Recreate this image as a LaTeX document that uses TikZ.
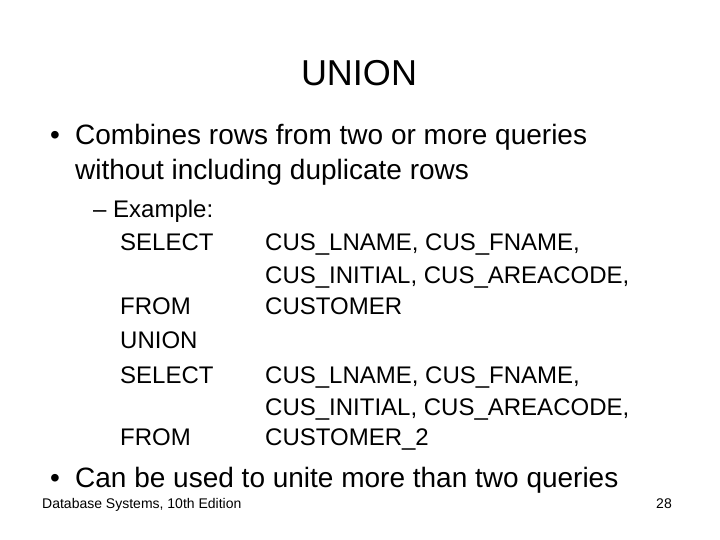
\documentclass[tikz,border=0pt]{standalone}
\usepackage{fontspec}
\setmainfont{Liberation Sans}
\begin{document}
\begin{tikzpicture}[x=1pt,y=-1pt,
  txt/.style={anchor=base west,inner sep=0pt},
  big/.style={txt,font=\fontsize{28}{28}\selectfont},
  sql/.style={txt,font=\fontsize{24}{24}\selectfont}]
  \useasboundingbox (0,0) rectangle (720,540);
  \node[anchor=base,inner sep=0pt,font=\fontsize{36}{36}\selectfont] (title) at (359,86) {UNION};
  % first bullet
  \node[big] (b1) at (50,145) {\textbullet};
  \node[big] (l1) at (75,145) {Combines rows from two or more queries};
  \node[big] (l2) at (75,180) {without including duplicate rows};
  \node[txt,font=\fontsize{24}{24}\selectfont] (ex) at (93,218) {– Example:};
  % query
  \node[sql] (k1) at (120,251) {SELECT};
  \node[sql] (v1) at (265,251) {CUS\_LNAME, CUS\_FNAME,};
  \node[sql] (v2) at (265,283) {CUS\_INITIAL, CUS\_AREACODE,};
  \node[sql] (k2) at (120,314) {FROM};
  \node[sql] (v3) at (265,314) {CUSTOMER};
  \node[sql] (k3) at (120,348) {UNION};
  \node[sql] (k4) at (120,383) {SELECT};
  \node[sql] (v4) at (265,383) {CUS\_LNAME, CUS\_FNAME,};
  \node[sql] (v5) at (265,415) {CUS\_INITIAL, CUS\_AREACODE,};
  \node[sql] (k5) at (120,445) {FROM};
  \node[sql] (v6) at (265,445) {CUSTOMER\_2};
  % second bullet
  \node[big] (b2) at (50,487) {\textbullet};
  \node[big] (l3) at (75,487) {Can be used to unite more than two queries};
  % footer
  \node[txt,font=\fontsize{14}{14}\selectfont] (foot) at (42,508) {Database Systems, 10th Edition};
  \node[anchor=base east,inner sep=0pt,font=\fontsize{14}{14}\selectfont] (page) at (672,508) {28};
\end{tikzpicture}
\end{document}
